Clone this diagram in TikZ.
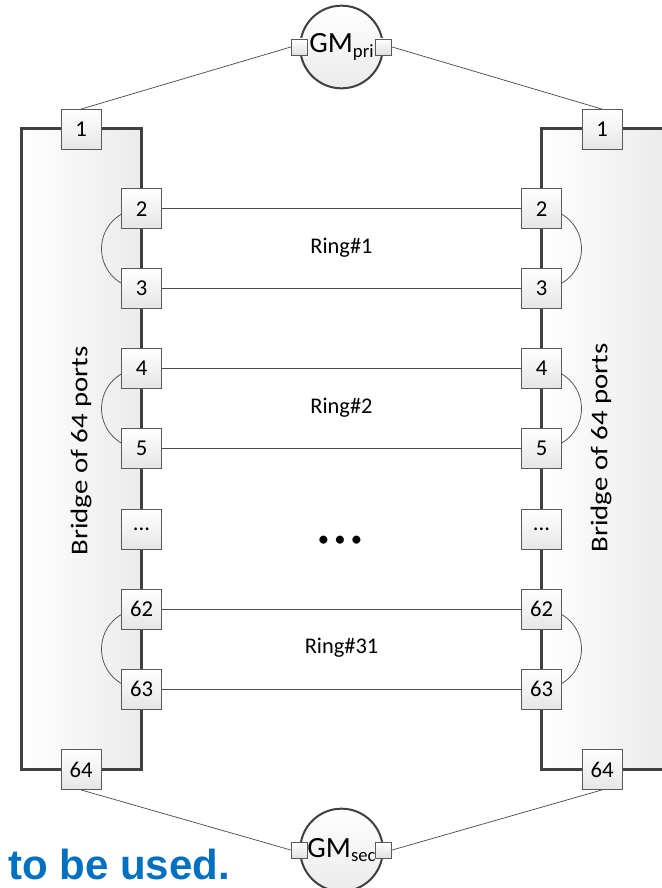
\documentclass[tikz,border=0pt]{standalone}
\usepackage{fontspec}
\setmainfont{Carlito}
\newfontfamily\arialb{Liberation Sans}
\definecolor{tbublue}{HTML}{0070C0}
\pgfdeclarelayer{back}
\pgfdeclarelayer{edges}
\pgfsetlayers{back,edges,main}
\begin{document}
\begin{tikzpicture}[x=0.75pt,y=-0.75pt,
  port/.style={draw=black!65, line width=0.6pt, top color=white, bottom color=black!10,
    minimum size=30pt, inner sep=0pt, font=\fontsize{17}{18}\selectfont},
  mini/.style={draw=black!65, line width=0.6pt, top color=white, bottom color=black!12,
    minimum size=12pt, inner sep=0pt},
  link/.style={draw=black!70, line width=0.55pt},
  bridge/.style={draw=black!75, line width=1.8pt, left color=white, right color=black!8},
  gm/.style={circle, draw=black!75, line width=1.5pt, top color=white, bottom color=black!8,
    minimum size=62pt, inner sep=0pt, font=\fontsize{22}{24}\selectfont},
  ringlbl/.style={font=\fontsize{16.8}{18}\selectfont},
  bridgelbl/.style={rotate=90, font=\fontsize{18}{20}\selectfont}]

\useasboundingbox (0,0) rectangle (661,888);
\clip (0,0) rectangle (661,888);

% bridges
\begin{pgfonlayer}{back}
  \draw[bridge] (21.5,128.5) rectangle (141.5,769.5);
  \draw[bridge] (541.5,128.5) rectangle (665,769.5);
\end{pgfonlayer}
\node[bridgelbl] (bl) at (81,451) {\scalebox{1.2}[1]{Bridge of 64 ports}};
\node[bridgelbl] (br) at (601,448) {\scalebox{1.2}[1]{Bridge of 64 ports}};

% left ports
\node[port] (L1)  at (81,129.5) {1};
\node[port] (L2)  at (141.5,208.7) {2};
\node[port] (L3)  at (141.5,288.7) {3};
\node[port] (L4)  at (141.5,368.5) {4};
\node[port] (L5)  at (141.5,448.5) {5};
\node[port] (Ld)  at (141.5,529.3) {...};
\node[port] (L62) at (141.5,609) {62};
\node[port] (L63) at (141.5,689) {63};
\node[port] (L64) at (81,769.5) {64};
% right ports
\node[port] (R1)  at (602,129.5) {1};
\node[port] (R2)  at (541.5,208.7) {2};
\node[port] (R3)  at (541.5,288.7) {3};
\node[port] (R4)  at (541.5,368.5) {4};
\node[port] (R5)  at (541.5,448.5) {5};
\node[port] (Rd)  at (541.5,529.3) {...};
\node[port] (R62) at (541.5,609) {62};
\node[port] (R63) at (541.5,689) {63};
\node[port] (R64) at (602,769.5) {64};

% grandmasters
\node[gm] (GMp) at (341.5,47) {GM\raisebox{-0.3ex}{\fontsize{14}{15}\selectfont pri}};
\node[mini] (GMpl) at (GMp.west) {};
\node[mini] (GMpr) at (GMp.east) {};
\node[gm] (GMs) at (341.5,850) {GM\raisebox{-0.3ex}{\fontsize{14}{15}\selectfont sec}};
\node[mini] (GMsl) at (GMs.west) {};
\node[mini] (GMsr) at (GMs.east) {};

% labels
\node[ringlbl] (r1) at (341.5,248) {Ring\#1};
\node[ringlbl] (r2) at (341.5,408) {Ring\#2};
\node[ringlbl] (r31) at (341.5,648) {Ring\#31};
\node[font=\fontsize{17}{18}\selectfont] (dots) at (340,541) {• • •};
\node[anchor=base west, inner sep=0pt, text=tbublue, font=\arialb\bfseries\fontsize{31.5}{33}\selectfont] (tbu) at (8,879) {to be used.};

% connectors
\begin{pgfonlayer}{edges}
  \draw[link] (L2.east) -- (R2.west);
  \draw[link] (L3.east) -- (R3.west);
  \draw[link] (L4.east) -- (R4.west);
  \draw[link] (L5.east) -- (R5.west);
  \draw[link] (L62.east) -- (R62.west);
  \draw[link] (L63.east) -- (R63.west);
  \draw[link] (L2.center) arc[start angle=90, end angle=270, radius=30pt];
  \draw[link] (L4.center) arc[start angle=90, end angle=270, radius=30pt];
  \draw[link] (L62.center) arc[start angle=90, end angle=270, radius=30pt];
  \draw[link] (R2.center) arc[start angle=90, end angle=-90, radius=30pt];
  \draw[link] (R4.center) arc[start angle=90, end angle=-90, radius=30pt];
  \draw[link] (R62.center) arc[start angle=90, end angle=-90, radius=30pt];
  \draw[link] (GMpl.west) -- (L1.north);
  \draw[link] (GMpr.east) -- (R1.north);
  \draw[link] (L64.south) -- (GMsl.west);
  \draw[link] (R64.south) -- (GMsr.east);
\end{pgfonlayer}
\end{tikzpicture}
\end{document}
